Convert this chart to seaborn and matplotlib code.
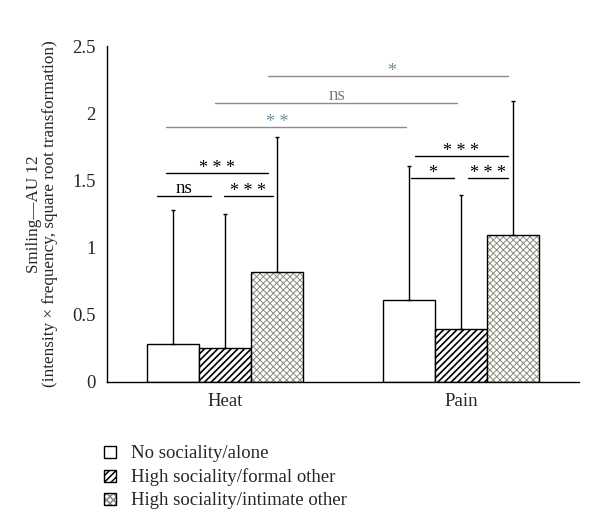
import matplotlib
matplotlib.use("Agg")
import matplotlib.pyplot as plt
import matplotlib.patches as mpatches
import seaborn as sns
import pandas as pd
import numpy as np

# ---- data ----
categories = ["Heat", "Pain"]
conditions = ["No sociality/alone", "High sociality/formal other", "High sociality/intimate other"]
means_heat = [0.28, 0.25, 0.82]
means_pain = [0.61, 0.39, 1.09]
upper_heat = [1.28, 1.25, 1.82]
upper_pain = [1.61, 1.39, 2.09]
yticks = [0, 0.5, 1, 1.5, 2, 2.5]
ytick_labels = ["0", "0.5", "1", "1.5", "2", "2.5"]

# significance annotations: (x0, x1, y, label)
sig_black = [
    (-0.288, -0.059, 1.382, "ns"),
    (-0.004, 0.203, 1.382, "* * *"),
    (-0.250, 0.182, 1.553, "* * *"),
    (0.788, 0.970, 1.516, "*"),
    (1.030, 1.199, 1.516, "* * *"),
    (0.805, 1.199, 1.679, "* * *"),
]
sig_gray = [
    (-0.250, 0.767, 1.894, "* *", 0.22, "#6f8f99"),
    (-0.042, 0.983, 2.076, "ns", 0.475, "#7a7a7a"),
    (0.182, 1.199, 2.277, "*", 0.708, "#6f8f99"),
]

rows = []
for ci, cat in enumerate(categories):
    ms = means_heat if ci == 0 else means_pain
    us = upper_heat if ci == 0 else upper_pain
    for k, cond in enumerate(conditions):
        rows.append({"cat": cat, "cond": cond, "mean": ms[k], "upper": us[k]})
df = pd.DataFrame(rows)

sns.set_style("white")
plt.rcParams["font.family"] = ["Liberation Serif", "DejaVu Serif"]
plt.rcParams["hatch.linewidth"] = 1.1

fig = plt.figure(figsize=(6.0, 5.32), dpi=100)
ax = fig.add_axes([0.178, 0.2825, 0.787, 0.631])

sns.barplot(data=df, x="cat", y="mean", hue="cond", order=categories,
            hue_order=conditions, width=0.66, errorbar=None,
            palette=["white", "white", "white"], edgecolor="black",
            linewidth=1.0, ax=ax, legend=False)

hatches = [None, "/////", "xxxxx"]
hatch_colors = ["black", "black", "#8a8a7c"]
hatch_lws = [1.0, 1.2, 0.7]


def style_patch(p, k):
    p.set_edgecolor("black")
    if hatches[k]:
        p.set_hatch(hatches[k])
    p._hatch_color = matplotlib.colors.to_rgba(hatch_colors[k])
    try:
        p.set_hatch_linewidth(hatch_lws[k])
    except Exception:
        pass


bar_containers = list(ax.containers)
for k, cont in enumerate(bar_containers):
    for bar in cont:
        style_patch(bar, k)

# error bars (upward only)
for k, cont in enumerate(bar_containers):
    for ci, bar in enumerate(cont):
        xc = bar.get_x() + bar.get_width() / 2
        m = bar.get_height()
        sub = df[(df.cat == categories[ci]) & (df.cond == conditions[k])]
        up = float(sub["upper"].iloc[0])
        ax.errorbar([xc], [m], yerr=[[0], [up - m]], fmt="none",
                    ecolor="black", elinewidth=1.0, capsize=1.5, capthick=1.0,
                    zorder=1)


def put_label(xc, y, lab, col):
    if lab == "ns":
        ax.text(xc, y + 0.022, lab, ha="center", va="baseline", fontsize=13.5, color=col)
    else:
        ax.text(xc, y + 0.002, lab, ha="center", va="baseline", fontsize=13, color=col)


for x0, x1, y, lab in sig_black:
    ax.plot([x0, x1], [y, y], color="black", lw=1.0, clip_on=False)
    put_label((x0 + x1) / 2, y, lab, "black")
for x0, x1, y, lab, tx, col in sig_gray:
    ax.plot([x0, x1], [y, y], color="#8c8c8c", lw=1.0, clip_on=False)
    put_label(tx, y, lab, col)

ax.set_xlim(-0.5, 1.5)
ax.set_ylim(0, 2.5)
ax.set_yticks(yticks)
ax.set_yticklabels(ytick_labels, fontsize=13.5)
ax.set_xticks([0, 1])
ax.set_xticklabels(categories, fontsize=13.5)
ax.tick_params(axis="x", which="major", length=0, pad=8)
ax.set_xticks([0.5, 1.5], minor=True)
ax.tick_params(axis="x", which="minor", length=4, width=1, direction="out", color="black")
ax.tick_params(axis="y", length=4, width=1, direction="out", color="black", pad=4)
ax.set_xlabel("")
ax.set_ylabel("Smiling\u2014AU 12\n(intensity \u00d7 frequency, square root transformation)",
              fontsize=12.3, labelpad=10, linespacing=1.05)
for s in ["top", "right"]:
    ax.spines[s].set_visible(False)
for s in ["left", "bottom"]:
    ax.spines[s].set_color("black")
    ax.spines[s].set_linewidth(1.0)

handles = []
for k, cond in enumerate(conditions):
    p = mpatches.Patch(facecolor="white", label=cond, lw=1.0)
    style_patch(p, k)
    handles.append(p)
fig.legend(handles=handles, loc="upper left", bbox_to_anchor=(0.174, 0.163),
           frameon=False, fontsize=13.5, handlelength=0.6, handleheight=0.6,
           handletextpad=0.8, labelspacing=0.32, borderpad=0, borderaxespad=0)

fig.savefig("out.png", dpi=100)
